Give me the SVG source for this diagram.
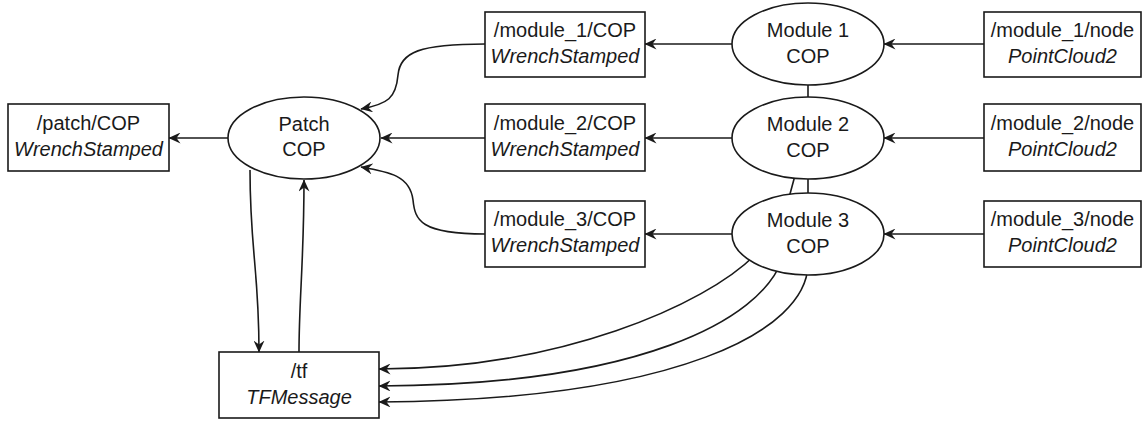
<svg xmlns="http://www.w3.org/2000/svg" width="1142" height="422" viewBox="0 0 1142 422">
<style>
.box{fill:#fff;stroke:#1a1a1a;stroke-width:1.6}
.ell{fill:#fff;stroke:#1a1a1a;stroke-width:1.6}
.edge{fill:none;stroke:#1a1a1a;stroke-width:1.6}
.arr{marker-end:url(#ah)}
text{font-family:"Liberation Sans",Arial,sans-serif;font-size:20px;fill:#1a1a1a;text-anchor:middle}
.it{font-style:italic}
</style>
<defs>
<marker id="ah" viewBox="0 0 12 11" refX="11.5" refY="5.5" markerWidth="12" markerHeight="11" markerUnits="userSpaceOnUse" orient="auto">
<path d="M0,0 L12,5.5 L0,11 L4,5.5 Z" fill="#1a1a1a"/>
</marker>
</defs>
<rect width="1142" height="422" fill="#fff"/>
<g id="connectors">
<path class="edge arr" d="M228 138 L169 138"/>
<path class="edge arr" d="M485 44 C420 44 400 52 398 75 C396 98 388 104 361 109"/>
<path class="edge arr" d="M485 138 L381 138"/>
<path class="edge arr" d="M485 234 C420 234 415 220 413 200 C410 176 390 172 361 167"/>
<path class="edge arr" d="M250 170 C250 250 259 270 259 352"/>
<path class="edge arr" d="M299 352 C299 300 304 260 304 180"/>
<path class="edge arr" d="M732 44 L645 44"/>
<path class="edge arr" d="M732 138 L645 138"/>
<path class="edge arr" d="M732 234 L645 234"/>
<path class="edge arr" d="M984 44 L884 44"/>
<path class="edge arr" d="M984 138 L884 138"/>
<path class="edge arr" d="M984 234 L884 234"/>
<path class="edge arr" d="M755 255 C705 305 560 369 379 369"/>
<path class="edge arr" d="M797 168 L790 194 L782 260 C760 320 640 385 379 386"/>
<path class="edge arr" d="M808 44 L808 265 C806 330 680 400 379 402"/>
</g>
<g id="patch_cop_topic">
<rect class="box" x="8" y="104" width="161" height="67"/>
<text x="88.5" y="130">/patch/COP</text>
<text x="88.5" y="156" class="it">WrenchStamped</text>
</g>
<g id="patch_cop">
<ellipse class="ell" cx="304" cy="138" rx="76" ry="41"/>
<text x="304" y="131">Patch</text>
<text x="304" y="156">COP</text>
</g>
<g id="module1_cop_topic">
<rect class="box" x="485" y="12" width="160" height="65"/>
<text x="565" y="37">/module_1/COP</text>
<text x="565" y="63" class="it">WrenchStamped</text>
</g>
<g id="module2_cop_topic">
<rect class="box" x="485" y="104" width="160" height="67"/>
<text x="565" y="130">/module_2/COP</text>
<text x="565" y="156" class="it">WrenchStamped</text>
</g>
<g id="module3_cop_topic">
<rect class="box" x="485" y="201" width="160" height="66"/>
<text x="565" y="226">/module_3/COP</text>
<text x="565" y="252" class="it">WrenchStamped</text>
</g>
<g id="module1_cop">
<ellipse class="ell" cx="808" cy="44" rx="76" ry="41"/>
<text x="808" y="37">Module 1</text>
<text x="808" y="63">COP</text>
</g>
<g id="module2_cop">
<ellipse class="ell" cx="808" cy="138" rx="76" ry="41"/>
<text x="808" y="131">Module 2</text>
<text x="808" y="157">COP</text>
</g>
<g id="module3_cop">
<ellipse class="ell" cx="808" cy="234" rx="76" ry="41"/>
<text x="808" y="227">Module 3</text>
<text x="808" y="253">COP</text>
</g>
<g id="module1_node">
<rect class="box" x="984" y="12" width="157" height="65"/>
<text x="1062.5" y="37">/module_1/node</text>
<text x="1062.5" y="63" class="it">PointCloud2</text>
</g>
<g id="module2_node">
<rect class="box" x="984" y="104" width="157" height="67"/>
<text x="1062.5" y="130">/module_2/node</text>
<text x="1062.5" y="156" class="it">PointCloud2</text>
</g>
<g id="module3_node">
<rect class="box" x="984" y="201" width="157" height="66"/>
<text x="1062.5" y="226">/module_3/node</text>
<text x="1062.5" y="252" class="it">PointCloud2</text>
</g>
<g id="tf">
<rect class="box" x="219" y="352" width="160" height="66"/>
<text x="299" y="378">/tf</text>
<text x="299" y="404" class="it">TFMessage</text>
</g>
</svg>
